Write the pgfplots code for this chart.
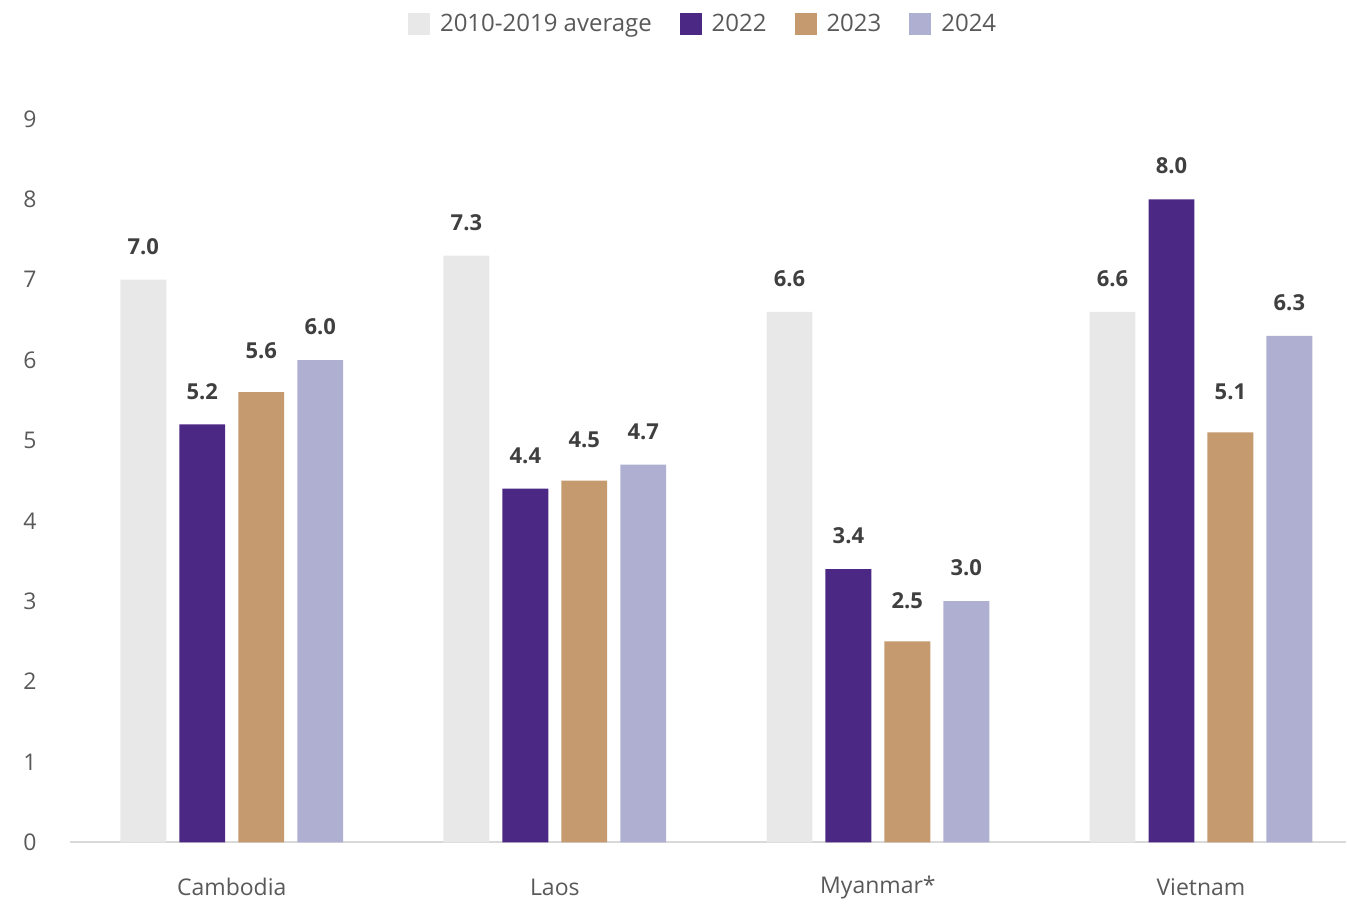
\documentclass[border=0pt]{standalone}
\usepackage{pgfplots}
\usepackage{pgfplotstable}
\pgfplotsset{compat=1.18}
\usepackage{fontspec}
\setmainfont{Open Sans}

\definecolor{avggray}{HTML}{E8E8E8}
\definecolor{purp}{HTML}{4B2884}
\definecolor{tan}{HTML}{C49A6E}
\definecolor{lav}{HTML}{AFAFD2}
\definecolor{txt}{HTML}{595959}
\definecolor{valtxt}{HTML}{3F3F3F}
\definecolor{axisgray}{HTML}{D9D9D9}

% GDP growth, %
\pgfplotstableread{
idx avg y22 y23 y24
0 7.0 5.2 5.6 6.0
1 7.3 4.4 4.5 4.7
2 6.6 3.4 2.5 3.0
3 6.6 8.0 5.1 6.3
}\growth

\begin{document}
\begin{tikzpicture}
\begin{axis}[
  scale only axis,
  width=638.5pt, height=362pt,
  ybar,
  bar width=0.142,
  xmin=-0.501, xmax=3.449,
  ymin=0, ymax=9,
  ytick={0,1,...,9},
  xtick=data,
  xticklabels={Cambodia,Laos,Myanmar*,Vietnam},
  axis lines*=left,
  y axis line style={draw=none},
  x axis line style={draw=axisgray, line width=1pt},
  major tick length=0pt,
  /pgf/number format/assume math mode=true,
  tick label style={font=\fontsize{11.5}{13}\selectfont, text=txt},
  yticklabel style={anchor=center, xshift=-20pt},
  xticklabel style={anchor=center, yshift=-22.5pt},
  clip=false,
  nodes near coords,
  nodes near coords style={font=\fontsize{11}{13}\selectfont\bfseries, text=valtxt,
    /pgf/number format/fixed, /pgf/number format/fixed zerofill,
    /pgf/number format/precision=1, /pgf/number format/assume math mode=true},
  every node near coord/.append style={anchor=south, yshift=9pt},
  legend style={at={(rel axis cs:0.497,1.131)}, anchor=center, draw=none,
    font=\fontsize{12}{14}\selectfont, text=txt, legend columns=4,
    /tikz/every odd column/.append style={column sep=3pt},
    /tikz/every even column/.append style={column sep=12pt}},
  legend image code/.code={\fill[#1,draw=none] (0pt,-5.5pt) rectangle (11pt,5.5pt);},
]
\addplot[fill=avggray, draw=none, bar shift=-0.2737] table[x=idx, y=avg] {\growth};
\addplot[fill=purp, draw=none, bar shift=-0.0912] table[x=idx, y=y22] {\growth};
\addplot[fill=tan, draw=none, bar shift=0.0912,
  every node near coord/.append style={yshift=4pt}] table[x=idx, y=y23] {\growth};
\addplot[fill=lav, draw=none, bar shift=0.2737] table[x=idx, y=y24] {\growth};
\legend{2010-2019 average, 2022, 2023, 2024}
\path (rel axis cs:-0.0548,-0.0801) rectangle (rel axis cs:1,1.1644);
\end{axis}
\end{tikzpicture}
\end{document}
